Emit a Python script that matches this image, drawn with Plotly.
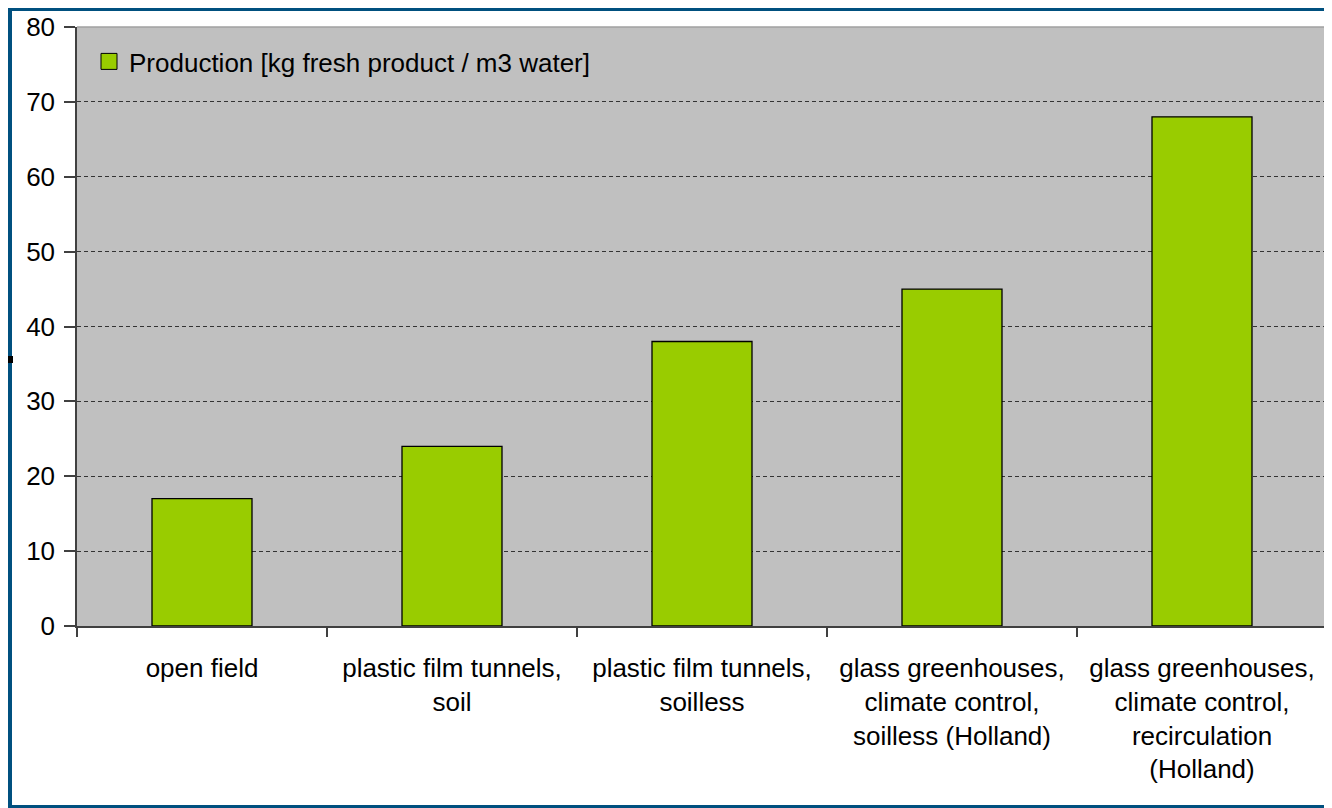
import plotly.graph_objects as go

categories = [
    "open field",
    "plastic film tunnels,<br>soil",
    "plastic film tunnels,<br>soilless",
    "glass greenhouses,<br>climate control,<br>soilless (Holland)",
    "glass greenhouses,<br>climate control,<br>recirculation<br>(Holland)",
]
production = [17, 24, 38, 45, 68]
series_name = "Production [kg fresh product / m3 water]"
y_ticks = [0, 10, 20, 30, 40, 50, 60, 70, 80]

FONT = "Liberation Sans, Arial, sans-serif"
BLUE = "#00507f"
GREEN = "#99cc00"

# page body has an 8px margin; figure occupies page px 8..1332 x 8..808
W, H = 1324, 800
L, T, R, B = 69, 19, 5, 182
PW, PH = W - L - R, H - T - B


def px_x(p):  # figure px -> paper
    return (p - L) / PW


def px_y(p):
    return (T + PH - p) / PH


fig = go.Figure()
fig.add_trace(go.Bar(
    x=categories, y=production, name=series_name,
    marker=dict(color=GREEN, line=dict(color="#000000", width=1.3)),
    width=0.4, showlegend=False,
))
# legend entry with a larger swatch
fig.add_trace(go.Scatter(
    x=[None], y=[None], mode="markers", name=series_name,
    marker=dict(symbol="square", size=18, color=GREEN, line=dict(color="#000000", width=1)),
    showlegend=True, hoverinfo="skip",
))

shapes = [
    dict(type="rect", xref="paper", yref="paper", x0=px_x(0), x1=px_x(4), y0=px_y(H), y1=px_y(0),
         fillcolor=BLUE, line=dict(width=0), layer="above"),
    dict(type="rect", xref="paper", yref="paper", x0=px_x(0), x1=px_x(W), y0=px_y(3), y1=px_y(0),
         fillcolor=BLUE, line=dict(width=0), layer="above"),
    dict(type="rect", xref="paper", yref="paper", x0=px_x(0), x1=px_x(W), y0=px_y(H), y1=px_y(H - 3),
         fillcolor=BLUE, line=dict(width=0), layer="above"),
    dict(type="rect", xref="paper", yref="paper", x0=px_x(0), x1=px_x(5), y0=px_y(355), y1=px_y(348),
         fillcolor="#000000", line=dict(width=0), layer="above"),
    dict(type="line", xref="paper", yref="paper", x0=0, x1=1, y0=1, y1=1,
         line=dict(color="#a0a0a0", width=1.5), layer="above"),
    dict(type="line", xref="paper", yref="paper", x0=1, x1=1, y0=0, y1=1,
         line=dict(color="#a0a0a0", width=1.5), layer="above"),
]

fig.update_layout(
    width=W, height=H,
    margin=dict(l=L, r=R, t=T, b=B, pad=0),
    paper_bgcolor="#ffffff", plot_bgcolor="#c0c0c0",
    font=dict(family=FONT, size=26, color="#000000"),
    shapes=shapes,
    legend=dict(
        x=px_x(81), y=px_y(30), xanchor="left", yanchor="top",
        bgcolor="rgba(0,0,0,0)", font=dict(family=FONT, size=26, color="#000000"),
        itemwidth=30,
    ),
    xaxis=dict(
        showline=True, linecolor="#404040", linewidth=1.5,
        ticks="outside", ticklen=9, tickcolor="#404040", tickwidth=1.5,
        tickson="boundaries", showgrid=False, ticklabelstandoff=18,
        tickfont=dict(family=FONT, size=26, color="#000000"),
    ),
    yaxis=dict(
        range=[0, 80], tickvals=y_ticks, showline=True, linecolor="#404040", linewidth=1.5,
        ticks="outside", ticklen=11, tickcolor="#404040", tickwidth=1.5,
        showgrid=True, gridcolor="#333333", gridwidth=1, griddash="4px,3px",
        zeroline=False, ticklabelstandoff=4,
        tickfont=dict(family=FONT, size=26, color="#000000"),
    ),
)

fig.write_html("out.html")
